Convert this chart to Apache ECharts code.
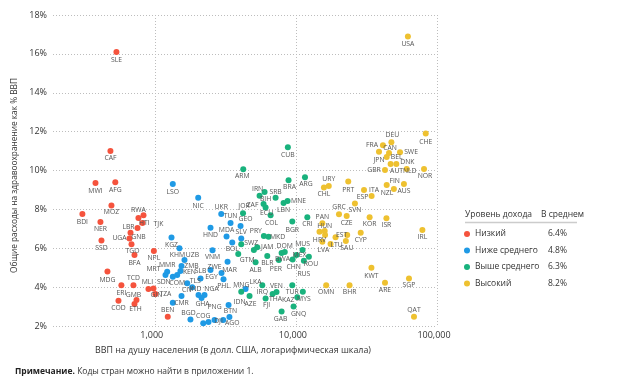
<!DOCTYPE html>
<html><head><meta charset="utf-8">
<script src="https://cdn.jsdelivr.net/npm/echarts@6/dist/echarts.min.js"></script>
<style>html,body{margin:0;padding:0;background:#fff}#c{width:627px;height:389px}</style>
</head><body><div id="c"></div>
<script>
const FONT = '"Open Sans", "Noto Sans", sans-serif';

// ---- data ----
const groupNames = ['Низкий', 'Ниже среднего', 'Выше среднего', 'Высокий'];
const groupAverages = ['6.4%', '4.8%', '6.3%', '8.2%'];
const xTicks = [1000, 10000, 100000];

const lowCodes  = ['SLE','CAF','MWI','AFG','MOZ','BDI','NER','RWA','HTI','TJK','LBR','GNB','UGA','TGO','BFA','SSD','NPL','MDG','ERI','TCD','MLI','GIN','TZA','COD','GMB','ETH','BEN'];
const lowGdp    = [535,485,380,525,493,307,412,832,766,818,754,673,662,684,718,419,985,462,580,706,902,979,1010,553,742,718,1236];
const lowHealth = [16.1,11.0,9.36,9.4,8.2,7.76,7.35,7.7,7.56,7.3,7.04,6.8,6.5,6.2,5.65,6.4,5.86,4.8,4.1,4.1,3.9,3.93,3.65,3.3,3.34,3.13,2.48];

const lmCodes  = ['LSO','NIC','UKR','TUN','GEO','HND','MDA','SLV','BOL','KGZ','KHM','UZB','ZMB','VNM','MMR','MRT','SDN','COM','KEN','SLB','TLS','CIV','CMR','IND','NGA','GHA','ZWE','EGY','MAR','PHL','BGD','COG','PNG','DJI','BTN','IDN','AGO','LKA',''];
const lmGdp    = [1342,2031,2958,3443,4054,2483,3225,4100,3540,1314,1496,1624,1547,2566,1224,1191,1342,1442,1520,2110,1842,1697,1547,2042,2252,2145,2483,2972,3279,3070,1790,2205,2651,2403,3380,3332,3055,4400,1342];
const lmHealth = [9.3,8.6,7.76,7.3,7.14,7.05,6.6,6.5,6.3,6.55,6.0,5.4,5.09,5.9,4.79,4.62,4.54,4.62,4.83,4.45,3.99,4.2,3.54,3.6,3.6,3.44,4.88,4.73,5.3,4.4,2.34,2.14,2.31,2.21,2.46,3.08,2.31,3.9,3.2];

const umCodes  = ['ARM','CUB','BRA','ARG','IRN','BIH','SRB','MNE','LBN','ZAF','ECU','JOR','COL','BGR','CRI','PRY','MKD','SWZ','JAM','','DOM','MUS','MEX','BWA','GTM','ALB','BLR','PER','CHN','ROU','RUS','IRQ','MNG','AZE','VEN','THA','FJI','TUR','KAZ','MYS','GNQ','GAB'];
const umGdp    = [4236,8770,8870,11600,6000,5530,7180,8730,8180,5900,6100,4220,6620,9430,12050,5930,6400,4100,5320,5040,8340,11150,10100,7920,3904,5180,6270,7570,9480,12360,11390,5780,4100,4695,7290,6840,6100,9430,10230,11200,9630,7920];
const umHealth = [10.06,11.2,9.5,9.65,8.9,8.7,8.6,8.43,8.33,8.28,8.1,7.8,7.7,7.37,7.6,6.63,6.59,6.2,6.05,5.91,5.81,5.91,5.65,5.76,5.7,5.28,5.6,5.4,5.42,5.56,5.36,4.1,3.76,3.54,3.75,3.65,3.42,4.1,3.48,3.76,3.0,2.74];

const hiCodes  = ['USA','CHE','DEU','FRA','CAN','JPN','BEL','SWE','DNK','AUT','NLD','GBR','NOR','FIN','AUS','NZL','ITA','ESP','PRT','URY','CHL','SVN','GRC','CZE','KOR','ISR','IRL','PAN','HUN','HRV','LVA','EST','LTU','SAU','CYP','KWT','ARE','SGP','OMN','BHR','QAT','',''];
const hiGdp    = [62200,83200,47500,41400,45700,38800,44000,54700,51500,46900,61000,42800,80900,44000,58300,49500,30400,34400,23500,17100,15800,26200,20200,22900,33300,43800,78800,15400,16000,14700,15400,19100,17600,22600,28800,34300,42800,63300,16400,24000,68700,23100,16100];
const hiHealth = [16.9,11.9,11.45,11.3,10.9,10.97,10.7,10.94,10.33,10.33,10.08,10.02,10.08,9.25,9.3,9.05,9.0,8.69,9.43,9.2,9.13,8.3,7.75,7.66,7.6,7.54,6.94,7.28,6.89,6.85,6.34,6.56,6.22,6.37,6.8,5.0,4.23,4.45,4.1,4.1,2.48,6.68,6.68];

// ---- styling (label offsets from point centre, px) ----
const labelOffset = {
  SLE:[0,8],CAF:[0,7],MWI:[0,8],AFG:[0,8],MOZ:[0,7],BDI:[0,8],NER:[0,7],RWA:[-5,-5],HTI:[6,5],TJK:[16,1],
  LBR:[-9,-1],GNB:[8,4],UGA:[-10,0],TGO:[1,7],BFA:[0,8],SSD:[0,8],NPL:[0,7],MDG:[0,8],ERI:[0,8],TCD:[0,-7],
  MLI:[-1,-7],GIN:[3,7],TZA:[10,0],COD:[0,7],GMB:[-3,-5],ETH:[1,5],BEN:[0,-7],
  LSO:[0,8],NIC:[0,8],UKR:[0,-7],TUN:[0,-7],GEO:[5,-7],HND:[0,7],MDA:[0,-7],SLV:[0,-6],BOL:[0,7],KGZ:[0,7],
  KHM:[-2,7],UZB:[8,-5],ZMB:[10,0],VNM:[0,7],MMR:[0,-7],MRT:[-12,-6],SDN:[-9,5],COM:[0,8],KEN:[9,1],SLB:[0,-7],
  TLS:[3,-6],CIV:[0,7],CMR:[0,7],IND:[-3,-6],NGA:[7,-6],GHA:[1,6],ZWE:[4,-3],EGY:[-10,4],MAR:[2,8],PHL:[0,7],
  BGD:[-2,-6],COG:[0,-7],PNG:[0,-13],DJI:[10,-1],BTN:[1,-6],IDN:[11,-3],AGO:[9,3],LKA:[10,-7],
  ARM:[-1,7],CUB:[0,8],BRA:[1,7],ARG:[1,7],IRN:[-7,-3],BIH:[6,3],SRB:[0,-6],MNE:[11,0],LBN:[0,7],ZAF:[-11,1],
  ECU:[1,6],JOR:[1,-7],COL:[1,8],BGR:[0,8],CRI:[0,7],PRY:[-8,-5],MKD:[9,0],SWZ:[10,-1],JAM:[10,0],DOM:[0,-6],
  MUS:[0,-6],MEX:[3,0],BWA:[1,6],GTM:[9,6],ALB:[0,8],BLR:[0,7],PER:[-3,9],CHN:[1,8],ROU:[2,7],RUS:[0,13],
  IRQ:[0,7],MNG:[0,-7],AZE:[1,8],VEN:[0,-6],THA:[3,5],FJI:[1,7],TUR:[0,7],KAZ:[-9,3],MYS:[1,7],GNQ:[5,7],GAB:[-1,7],
  USA:[0,8],CHE:[0,8],DEU:[1,-7],FRA:[-11,0],CAN:[1,-5],JPN:[0,8],BEL:[10,0],SWE:[11,0],DNK:[11,-2],AUT:[6,7],
  NLD:[3,2],GBR:[-11,0],NOR:[1,7],FIN:[8,-4],AUS:[0,7],NZL:[-7,4],ITA:[10,0],ESP:[-9,1],PRT:[0,8],URY:[0,-7],
  CHL:[0,7],SVN:[0,7],GRC:[0,-7],CZE:[0,7],KOR:[0,7],ISR:[0,7],IRL:[0,7],PAN:[0,-6],HUN:[0,-5],HRV:[0,8],
  LVA:[1,8],EST:[6,-2],LTU:[6,1],SAU:[1,7],CYP:[0,7],KWT:[0,8],ARE:[0,7],SGP:[0,7],OMN:[0,7],BHR:[0,7],QAT:[0,-7]
};
const colors = ['#F5533D', '#1F9AE5', '#19B27D', '#EEC130'];

function build(codes, gdp, health) {
  return codes.map((c, i) => ({
    value: [gdp[i], health[i]],
    name: c,
    label: { show: c !== '', offset: labelOffset[c] || [0, 8] }
  }));
}
const groupsData = [
  build(lowCodes, lowGdp, lowHealth),
  build(lmCodes, lmGdp, lmHealth),
  build(umCodes, umGdp, umHealth),
  build(hiCodes, hiGdp, hiHealth)
];

const chart = echarts.init(document.getElementById('c'), null, { renderer: 'canvas' });
const gridLine = { show: true, lineStyle: { color: '#bdbdbd', type: [1, 2], width: 1 } };

const legendTop = 228, legendPitch = 16.5;
const avgTexts = groupAverages.map((a, i) => ({
  type: 'text', left: 548, top: legendTop + i * legendPitch,
  style: { text: a, fontSize: 8.5, lineHeight: 12, fill: '#333', fontFamily: FONT, verticalAlign: 'top' }
}));

chart.setOption({
  animation: false,
  textStyle: { fontFamily: FONT },
  grid: { left: 53, right: 190, top: 15, bottom: 63 },
  xAxis: {
    type: 'log', logBase: 10, min: 190, max: 100000,
    axisLine: { show: false }, axisTick: { show: false },
    splitLine: Object.assign({ showMinLine: false }, gridLine),
    axisLabel: {
      fontSize: 9, color: '#333', fontFamily: FONT, margin: 5, padding: [0, 6, 0, 0],
      formatter: v => { const r = Math.round(v); return xTicks.includes(r) ? r.toString().replace(/\B(?=(\d{3})+(?!\d))/g, ',') : ''; }
    }
  },
  yAxis: {
    type: 'value', min: 2, max: 18, interval: 2,
    axisLine: { show: false }, axisTick: { show: false },
    splitLine: gridLine,
    axisLabel: { fontSize: 9, color: '#333', fontFamily: FONT, margin: 6, formatter: '{value}%' },
    name: 'Общие расходы на здравоохранение как % ВВП',
    nameLocation: 'middle', nameGap: 32,
    nameTextStyle: { fontSize: 8.3, color: '#333', fontFamily: FONT, padding: [0, 10, 0, 0] }
  },
  legend: {
    orient: 'vertical', left: 464, top: legendTop, padding: 0, itemWidth: 6, itemHeight: 6, itemGap: 4.5,
    icon: 'circle', selectedMode: false,
    data: groupNames,
    textStyle: { fontSize: 8.5, lineHeight: 12, color: '#333', fontFamily: FONT }
  },
  graphic: [
    { type: 'text', left: 465, top: 210, style: { text: 'Уровень дохода', fontSize: 8.5, fill: '#333', fontFamily: FONT } },
    { type: 'text', left: 541, top: 210, style: { text: 'В среднем', fontSize: 8.5, fill: '#333', fontFamily: FONT } },
    { type: 'line', shape: { x1: 465, y1: 222.5, x2: 577, y2: 222.5 }, style: { stroke: '#cccccc', lineWidth: 1.5 } },
    { type: 'text', left: 95, top: 346, style: { text: 'ВВП на душу населения (в долл. США, логарифмическая шкала)', fontSize: 8.9, fill: '#333', fontFamily: FONT } },
    { type: 'text', left: 15, top: 367, style: { text: '{b|Примечание.} Коды стран можно найти в приложении 1.', fontSize: 8.5, fill: '#333', fontFamily: FONT,
      rich: { b: { fontWeight: 'bold', fontSize: 8.5, fill: '#222', fontFamily: FONT } } } }
  ].concat(avgTexts),
  series: groupNames.map((g, k) => ({
    name: g, type: 'scatter', symbolSize: 6,
    itemStyle: { color: colors[k], opacity: 1 },
    label: { position: 'inside', formatter: p => p.name, fontSize: 6.8, color: '#555', fontFamily: FONT },
    emphasis: { disabled: true },
    data: groupsData[k]
  }))
});
</script></body></html>
